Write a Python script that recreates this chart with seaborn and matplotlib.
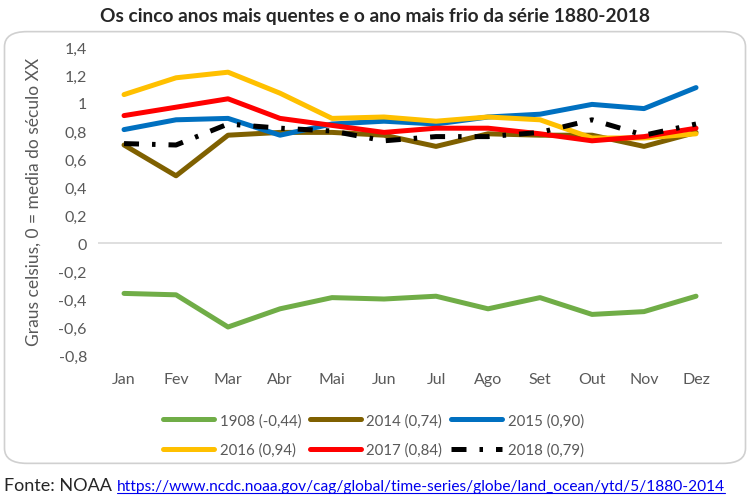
import pandas as pd
import matplotlib.pyplot as plt
import seaborn as sns
from matplotlib.patches import FancyBboxPatch

# dados (anomalia de temperatura, graus celsius)
meses = ['Jan', 'Fev', 'Mar', 'Abr', 'Mai', 'Jun', 'Jul', 'Ago', 'Set', 'Out', 'Nov', 'Dez']
a1908 = [-0.36, -0.37, -0.60, -0.47, -0.39, -0.40, -0.38, -0.47, -0.39, -0.51, -0.49, -0.38]
a2014 = [0.70, 0.48, 0.77, 0.79, 0.79, 0.77, 0.69, 0.78, 0.77, 0.77, 0.69, 0.79]
a2015 = [0.81, 0.88, 0.89, 0.77, 0.85, 0.87, 0.85, 0.90, 0.92, 0.99, 0.96, 1.11]
a2016 = [1.06, 1.18, 1.22, 1.07, 0.89, 0.90, 0.87, 0.90, 0.88, 0.75, 0.75, 0.78]
a2017 = [0.91, 0.97, 1.03, 0.89, 0.84, 0.79, 0.82, 0.82, 0.78, 0.73, 0.76, 0.82]
a2018 = [0.71, 0.70, 0.85, 0.82, 0.80, 0.73, 0.76, 0.76, 0.79, 0.88, 0.77, 0.85]
series = ['1908 (-0,44)', '2014 (0,74)', '2015 (0,90)', '2016 (0,94)', '2017 (0,84)', '2018 (0,79)']
cores = ['#70AD47', '#7F6000', '#0070C0', '#FFC000', '#FF0000', '#000000']
yticks = [-0.8, -0.6, -0.4, -0.2, 0, 0.2, 0.4, 0.6, 0.8, 1, 1.2, 1.4]

df = pd.DataFrame({'mes': meses * 6,
                   'serie': [s for s in series for _ in meses],
                   'valor': a1908 + a2014 + a2015 + a2016 + a2017 + a2018})
df['x'] = df.groupby('serie').cumcount()

sns.set_style('white')
plt.rcParams['font.family'] = ['Lato', 'DejaVu Sans']
cinza = '#595959'

fig = plt.figure(figsize=(7.5, 5.02), dpi=100)
fig.patches.append(FancyBboxPatch((0.006, 0.075), 0.988, 0.86, transform=fig.transFigure,
                                  boxstyle='round,pad=0,rounding_size=0.03',
                                  fc='white', ec='#d0d0d0', lw=1.2, zorder=-5))
ax = fig.add_axes([0.1307, 0.2908, 0.832, 0.6136])
ax.set_facecolor('none')

dashes = {s: '' for s in series}
dashes['2018 (0,79)'] = (3, 2.6, 0.7, 2.6)
sns.lineplot(data=df, x='x', y='valor', hue='serie', style='serie', palette=cores,
             dashes=dashes, linewidth=3.6, legend=False, ax=ax, zorder=3)

ax.axhline(0, color='#d9d9d9', lw=1.2, zorder=1)
ax.set_xlim(-0.5, 11.5)
ax.set_ylim(-0.8, 1.4)
ax.set_xticks(range(12))
ax.set_xticklabels(meses, color=cinza, fontsize=11.5)
ax.set_yticks(yticks)
ax.set_yticklabels([('%g' % v).replace('.', ',') for v in yticks], color=cinza, fontsize=11.5)
ax.tick_params(length=0, pad=8)
ax.tick_params(axis='x', pad=12)
for s in ax.spines.values():
    s.set_visible(False)
ax.set_xlabel('')
ax.set_ylabel('Graus celsius, 0 = media do século XX', color=cinza, fontsize=12.5, labelpad=12)

linhas = ax.get_lines()[:6]
ordem = [0, 3, 1, 4, 2, 5]
fig.legend([linhas[i] for i in ordem], [series[i] for i in ordem], loc='center',
           bbox_to_anchor=(0.498, 0.131), ncol=3, frameon=False, fontsize=10.8,
           labelcolor=cinza, handlelength=3.4, handletextpad=0.35, columnspacing=0.6,
           labelspacing=1.0)

fig.suptitle('Os cinco anos mais quentes e o ano mais frio da série 1880-2018',
             x=0.5, y=0.985, fontsize=13.8, fontweight='bold')

# fonte com link
t1 = fig.text(0.006, 0.022, 'Fonte: NOAA ', fontsize=13, va='baseline')
fig.canvas.draw()
bb = t1.get_window_extent()
x2 = bb.x1 / fig.bbox.width
t2 = fig.text(x2, 0.022, 'https://www.ncdc.noaa.gov/cag/global/time-series/globe/land_ocean/ytd/5/1880-2014',
              fontsize=11.2, color='#0000EE', va='baseline')
fig.canvas.draw()
bb2 = t2.get_window_extent()
fig.add_artist(plt.Line2D([bb2.x0 / fig.bbox.width, bb2.x1 / fig.bbox.width], [0.016, 0.016],
                          transform=fig.transFigure, color='#0000EE', lw=0.8))

fig.savefig('out.png', dpi=100)
